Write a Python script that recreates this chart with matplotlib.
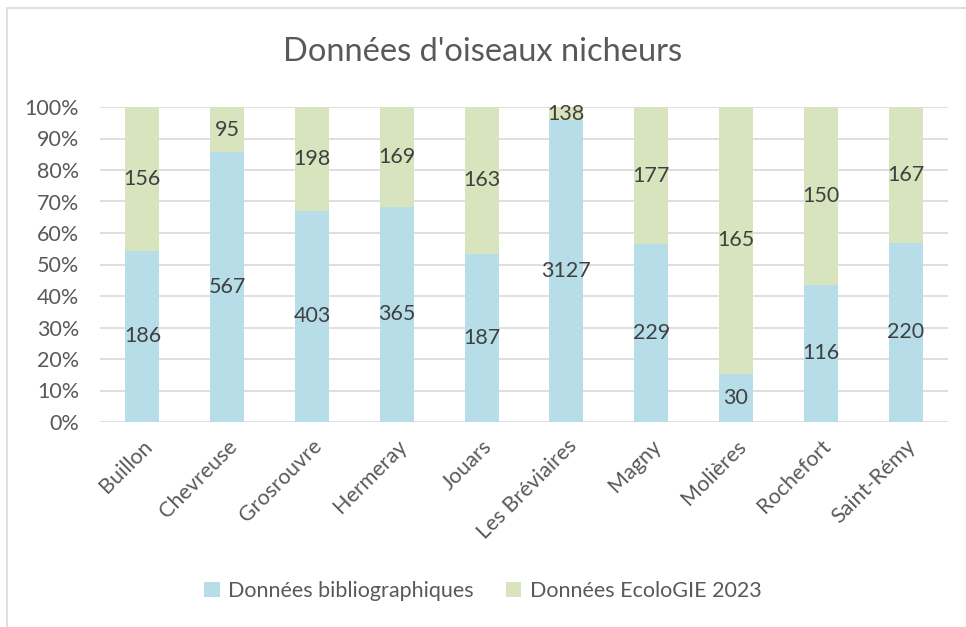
import matplotlib

matplotlib.use("Agg")

import matplotlib.pyplot as plt
import numpy as np
from matplotlib.patches import Rectangle, Patch

plt.rcParams["font.family"] = ["Lato", "DejaVu Sans"]

communes = ["Buillon", "Chevreuse", "Grosrouvre", "Hermeray", "Jouars",
            "Les Bréviaires", "Magny", "Molières", "Rochefort", "Saint-Rémy"]
biblio = [186, 567, 403, 365, 187, 3127, 229, 30, 116, 220]
ecologie = [156, 95, 198, 169, 163, 138, 177, 165, 150, 167]

BLUE = "#b7dee8"
GREEN = "#d7e4bd"
TEXT = "#595959"
LABEL = "#404040"
GRID = "#d9d9d9"

biblio = np.array(biblio, dtype=float)
ecologie = np.array(ecologie, dtype=float)
total = biblio + ecologie
p_bib = biblio / total
p_eco = ecologie / total

fig = plt.figure(figsize=(9.66, 6.27), dpi=100)
fig.patches.append(Rectangle((7 / 966, -0.1), 1.2, 1 - 8 / 627 + 0.1, transform=fig.transFigure,
                             fill=False, edgecolor="#d9d9d9", linewidth=1.2))
ax = fig.add_axes([100 / 966, 1 - 422 / 627, 848 / 966, 315 / 627])

x = np.arange(len(communes))
ax.bar(x, p_bib, width=0.4, color=BLUE, zorder=2)
ax.bar(x, p_eco, width=0.4, bottom=p_bib, color=GREEN, zorder=2)

for i in range(len(communes)):
    ax.text(x[i], p_bib[i] / 2, f"{int(biblio[i])}", ha="center", va="center",
            fontsize=15.5, color=LABEL, zorder=3)
    ax.text(x[i], p_bib[i] + p_eco[i] / 2, f"{int(ecologie[i])}", ha="center", va="center",
            fontsize=15.5, color=LABEL, zorder=3)

ax.set_xlim(-0.5, len(communes) - 0.5)
ax.set_ylim(0, 1)
ax.set_yticks(np.arange(0, 1.01, 0.1))
ax.set_yticklabels([f"{int(round(v * 100))}%" for v in np.arange(0, 1.01, 0.1)])
ax.yaxis.grid(True, color=GRID, linewidth=1.2, zorder=0)
ax.set_axisbelow(True)
for s in ["top", "right", "left", "bottom"]:
    ax.spines[s].set_visible(False)
ax.tick_params(axis="both", length=0, labelsize=15.5, labelcolor=TEXT)
ax.tick_params(axis="y", pad=15)
ax.set_xticks(x)
ax.set_xticklabels(communes, rotation=45, ha="right", rotation_mode="anchor")
ax.tick_params(axis="x", pad=10)

fig.text(0.5, 1 - 52 / 627, "Données d'oiseaux nicheurs", ha="center", va="center",
         fontsize=23.5, color=TEXT)

handles = [Patch(facecolor=BLUE, label="Données bibliographiques"),
           Patch(facecolor=GREEN, label="Données EcoloGIE 2023")]
fig.legend(handles=handles, loc="center", bbox_to_anchor=(0.5, 1 - 591 / 627), ncol=2,
           frameon=False, fontsize=15.5, labelcolor=TEXT, handlelength=0.7, handleheight=0.7,
           handletextpad=0.4, columnspacing=1.5)

fig.savefig("out.png", dpi=100)
